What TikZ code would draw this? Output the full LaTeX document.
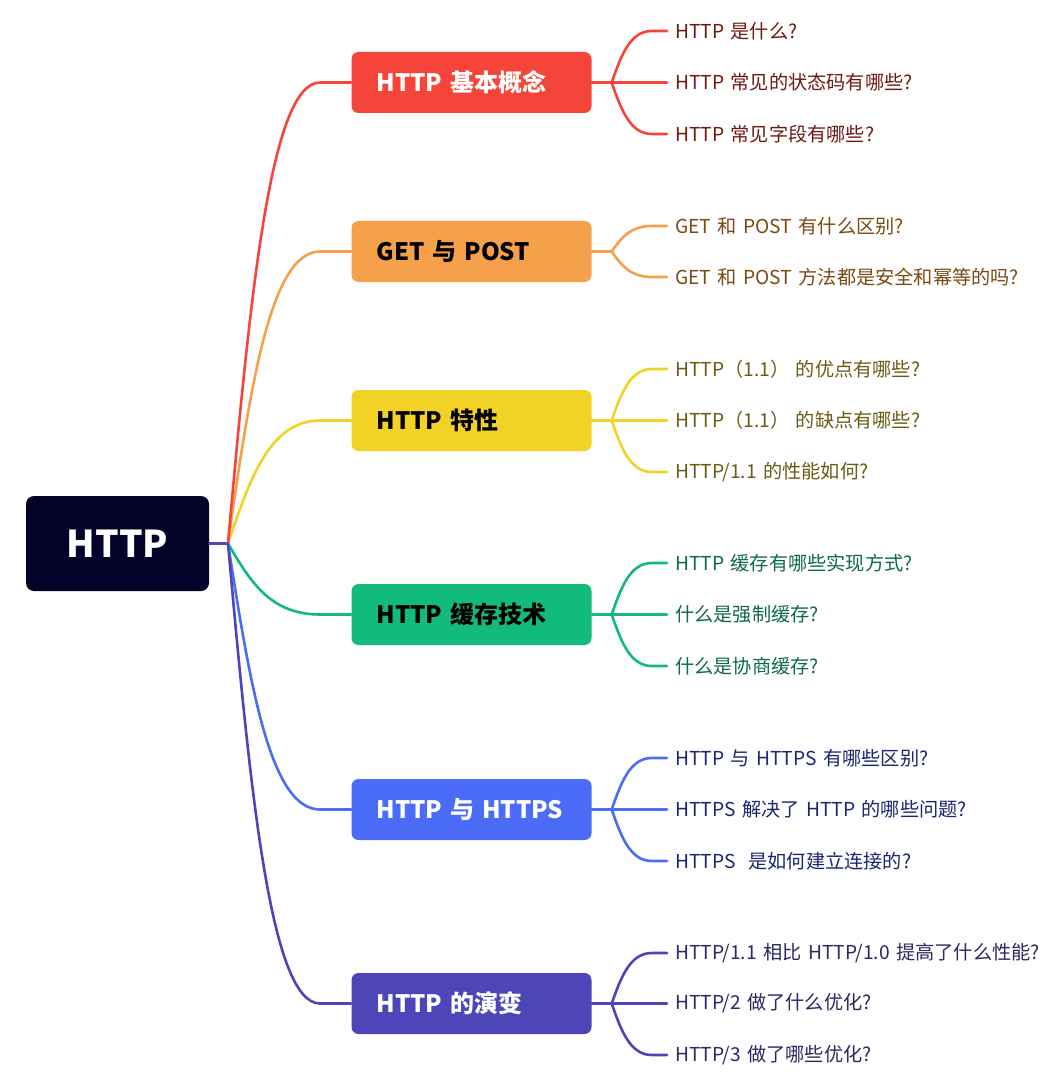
\documentclass[tikz,border=0pt]{standalone}
\usepackage{fontspec}
\setmainfont[WordSpace=1.5]{Noto Sans CJK SC}
\usetikzlibrary{calc}
\definecolor{cRoot}{HTML}{03032A}
\definecolor{cRed}{HTML}{F5453A}
\definecolor{cOrange}{HTML}{F5A04B}
\definecolor{cYellow}{HTML}{F2D325}
\definecolor{cGreen}{HTML}{12BA7B}
\definecolor{cBlue}{HTML}{4A6CF7}
\definecolor{cPurple}{HTML}{4C46B9}
\definecolor{tRed}{HTML}{6E1A12}
\definecolor{tOrange}{HTML}{7A4A10}
\definecolor{tYellow}{HTML}{6B5C14}
\definecolor{tGreen}{HTML}{0E6A45}
\definecolor{tBlue}{HTML}{1B2672}
\definecolor{tPurple}{HTML}{2B2862}
\tikzset{
  rootbox/.style={fill=cRoot, text=white, rounded corners=8pt, minimum width=183pt, minimum height=95pt, font=\fontsize{37}{40}\selectfont\bfseries},
  branchbox/.style={fill=#1, rounded corners=7pt, minimum height=61pt, text width=190pt, inner xsep=25pt, align=left, font=\fontsize{24}{28}\selectfont\bfseries},
  leaf/.style={anchor=west, inner xsep=8pt, inner ysep=0pt, text=#1, font=\fontsize{19.2}{23}\selectfont},
  conn/.style={draw=#1, line width=2.6pt, line cap=round}
}
\newcommand\branchline[2]{\draw[conn=#1] let \p1=(J), \p2=(#2.west) in (\p1) .. controls (\x1+22pt,{0.47*\y1+0.53*\y2}) and (\x1+42pt,\y2) .. (\x1+92pt,\y2) -- (\p2);}
\newcommand\leafline[3]{\draw[conn=#1] let \p1=(#2), \p2=(#3.west) in (\p1) .. controls (\x1+9pt,{0.5*\y1+0.5*\y2}) and (\x1+18pt,\y2) .. (\x1+40pt,\y2) -- (\p2);}
\begin{document}
\begin{tikzpicture}[x=1pt,y=-1pt]
\useasboundingbox (0,0) rectangle (1046,1083);
\fill[white] (0,0) rectangle (1046,1083);

% root
\node[rootbox] (root) at (117.5,543.5) {HTTP};
\coordinate (J) at (228,543.5);

% branches
\node[branchbox=cRed, text=white] (b1) at (471.5,82.5) {HTTP 基本概念};
\node[branchbox=cOrange, text=black] (b2) at (471.5,251.5) {GET 与 POST};
\node[branchbox=cYellow, text=black] (b3) at (471.5,420.5) {HTTP 特性};
\node[branchbox=cGreen, text=black] (b4) at (471.5,614.5) {HTTP 缓存技术};
\node[branchbox=cBlue, text=white] (b5) at (471.5,809.5) {HTTP 与 HTTPS};
\node[branchbox=cPurple, text=white] (b6) at (471.5,1003.5) {HTTP 的演变};

% leaves
\node[leaf=tRed] (l11) at (667,31) {HTTP 是什么?};
\node[leaf=tRed] (l12) at (667,82.5) {HTTP 常见的状态码有哪些?};
\node[leaf=tRed] (l13) at (667,134) {HTTP 常见字段有哪些?};
\node[leaf=tOrange] (l21) at (667,226) {GET 和 POST 有什么区别?};
\node[leaf=tOrange] (l22) at (667,277) {GET 和 POST 方法都是安全和幂等的吗?};
\node[leaf=tYellow] (l31) at (667,369) {HTTP（1.1） 的优点有哪些?};
\node[leaf=tYellow] (l32) at (667,420.5) {HTTP（1.1） 的缺点有哪些?};
\node[leaf=tYellow] (l33) at (667,472) {HTTP/1.1 的性能如何?};
\node[leaf=tGreen] (l41) at (667,563) {HTTP 缓存有哪些实现方式?};
\node[leaf=tGreen] (l42) at (667,614.5) {什么是强制缓存?};
\node[leaf=tGreen] (l43) at (667,666) {什么是协商缓存?};
\node[leaf=tBlue] (l51) at (667,758) {HTTP 与 HTTPS 有哪些区别?};
\node[leaf=tBlue] (l52) at (667,809.5) {HTTPS 解决了 HTTP 的哪些问题?};
\node[leaf=tBlue] (l53) at (667,861) {HTTPS\ \ 是如何建立连接的?};
\node[leaf=tPurple] (l61) at (667,953) {HTTP/1.1 相比 HTTP/1.0 提高了什么性能?};
\node[leaf=tPurple] (l62) at (667,1003.5) {HTTP/2 做了什么优化?};
\node[leaf=tPurple] (l63) at (667,1055) {HTTP/3 做了哪些优化?};

% root to branches
\draw[conn=cPurple] (root.east) -- (J);
\branchline{cYellow}{b3}
\branchline{cOrange}{b2}
\branchline{cRed}{b1}
\branchline{cGreen}{b4}
\branchline{cBlue}{b5}
\branchline{cPurple}{b6}

% branch to leaves
\draw[conn=cRed] (b1.east) -- ++(20,0) coordinate (j1);
\leafline{cRed}{j1}{l11}\leafline{cRed}{j1}{l12}\leafline{cRed}{j1}{l13}
\draw[conn=cOrange] (b2.east) -- ++(20,0) coordinate (j2);
\leafline{cOrange}{j2}{l21}\leafline{cOrange}{j2}{l22}
\draw[conn=cYellow] (b3.east) -- ++(20,0) coordinate (j3);
\leafline{cYellow}{j3}{l31}\leafline{cYellow}{j3}{l32}\leafline{cYellow}{j3}{l33}
\draw[conn=cGreen] (b4.east) -- ++(20,0) coordinate (j4);
\leafline{cGreen}{j4}{l41}\leafline{cGreen}{j4}{l42}\leafline{cGreen}{j4}{l43}
\draw[conn=cBlue] (b5.east) -- ++(20,0) coordinate (j5);
\leafline{cBlue}{j5}{l51}\leafline{cBlue}{j5}{l52}\leafline{cBlue}{j5}{l53}
\draw[conn=cPurple] (b6.east) -- ++(20,0) coordinate (j6);
\leafline{cPurple}{j6}{l61}\leafline{cPurple}{j6}{l62}\leafline{cPurple}{j6}{l63}
\end{tikzpicture}
\end{document}
